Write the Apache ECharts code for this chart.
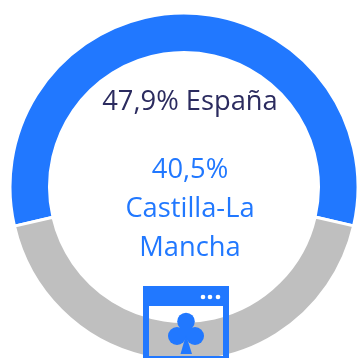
<!DOCTYPE html>
<html><head><meta charset="utf-8">
<style>html,body{margin:0;padding:0;background:#fff}#c{width:358px;height:358px}</style>
<script src="https://cdn.jsdelivr.net/npm/echarts@6/dist/echarts.min.js"></script>
</head><body><div id="c"></div>
<script>
var categories = ['Castilla-La Mancha', 'Resto'];
var values = [57.2, 42.8];
var colors = ['#2178ff', '#bfbfbf'];
var textEspana = '47,9% España';
var textRegion = ['40,5%', 'Castilla-La', 'Mancha'];
var BLUE = '#2178ff', NAVY = '#2b2b5f', FONT = '"Open Sans"';
function t(text, y, fill){
  return {type:'text', z:10, style:{text:text, x:190, y:y, align:'center', verticalAlign:'top',
    fill:fill, fontFamily:FONT, fontSize:27.3}};
}
var chart = echarts.init(document.getElementById('c'), null, {renderer:'canvas'});
chart.setOption({
  animation:false,
  series:[{
    type:'pie', center:[184,187], radius:[134.5,174], startAngle:193, clockwise:true,
    label:{show:false}, labelLine:{show:false}, silent:true,
    itemStyle:{borderColor:'#fff', borderWidth:3},
    data:categories.map(function(n,i){return {name:n, value:values[i], itemStyle:{color:colors[i]}};})
  }],
  graphic:[
    t(textEspana,89,NAVY), t(textRegion[0],157,BLUE), t(textRegion[1],196,BLUE), t(textRegion[2],235,BLUE),
    {type:'rect', z:5, shape:{x:143,y:286,width:86,height:20}, style:{fill:BLUE}},
    {type:'rect', z:5, shape:{x:143,y:306,width:6,height:52}, style:{fill:BLUE}},
    {type:'rect', z:5, shape:{x:223,y:306,width:6,height:52}, style:{fill:BLUE}},
    {type:'rect', z:5, shape:{x:143,y:356,width:86,height:2}, style:{fill:BLUE}},
    {type:'circle', z:6, shape:{cx:203,cy:297,r:2.3}, style:{fill:'#fff'}},
    {type:'circle', z:6, shape:{cx:210,cy:297,r:2.3}, style:{fill:'#fff'}},
    {type:'circle', z:6, shape:{cx:218,cy:297,r:2.3}, style:{fill:'#fff'}},
    {type:'circle', z:6, shape:{cx:186,cy:321.5,r:8.8}, style:{fill:BLUE}},
    {type:'circle', z:6, shape:{cx:177,cy:336,r:9}, style:{fill:BLUE}},
    {type:'circle', z:6, shape:{cx:195,cy:336,r:9}, style:{fill:BLUE}},
    {type:'rect', z:6, shape:{x:181,y:326,width:10,height:12}, style:{fill:BLUE}},
    {type:'polygon', z:6, shape:{points:[[186,335],[192,354],[180.5,354]]}, style:{fill:BLUE}}
  ]
});
</script></body></html>
